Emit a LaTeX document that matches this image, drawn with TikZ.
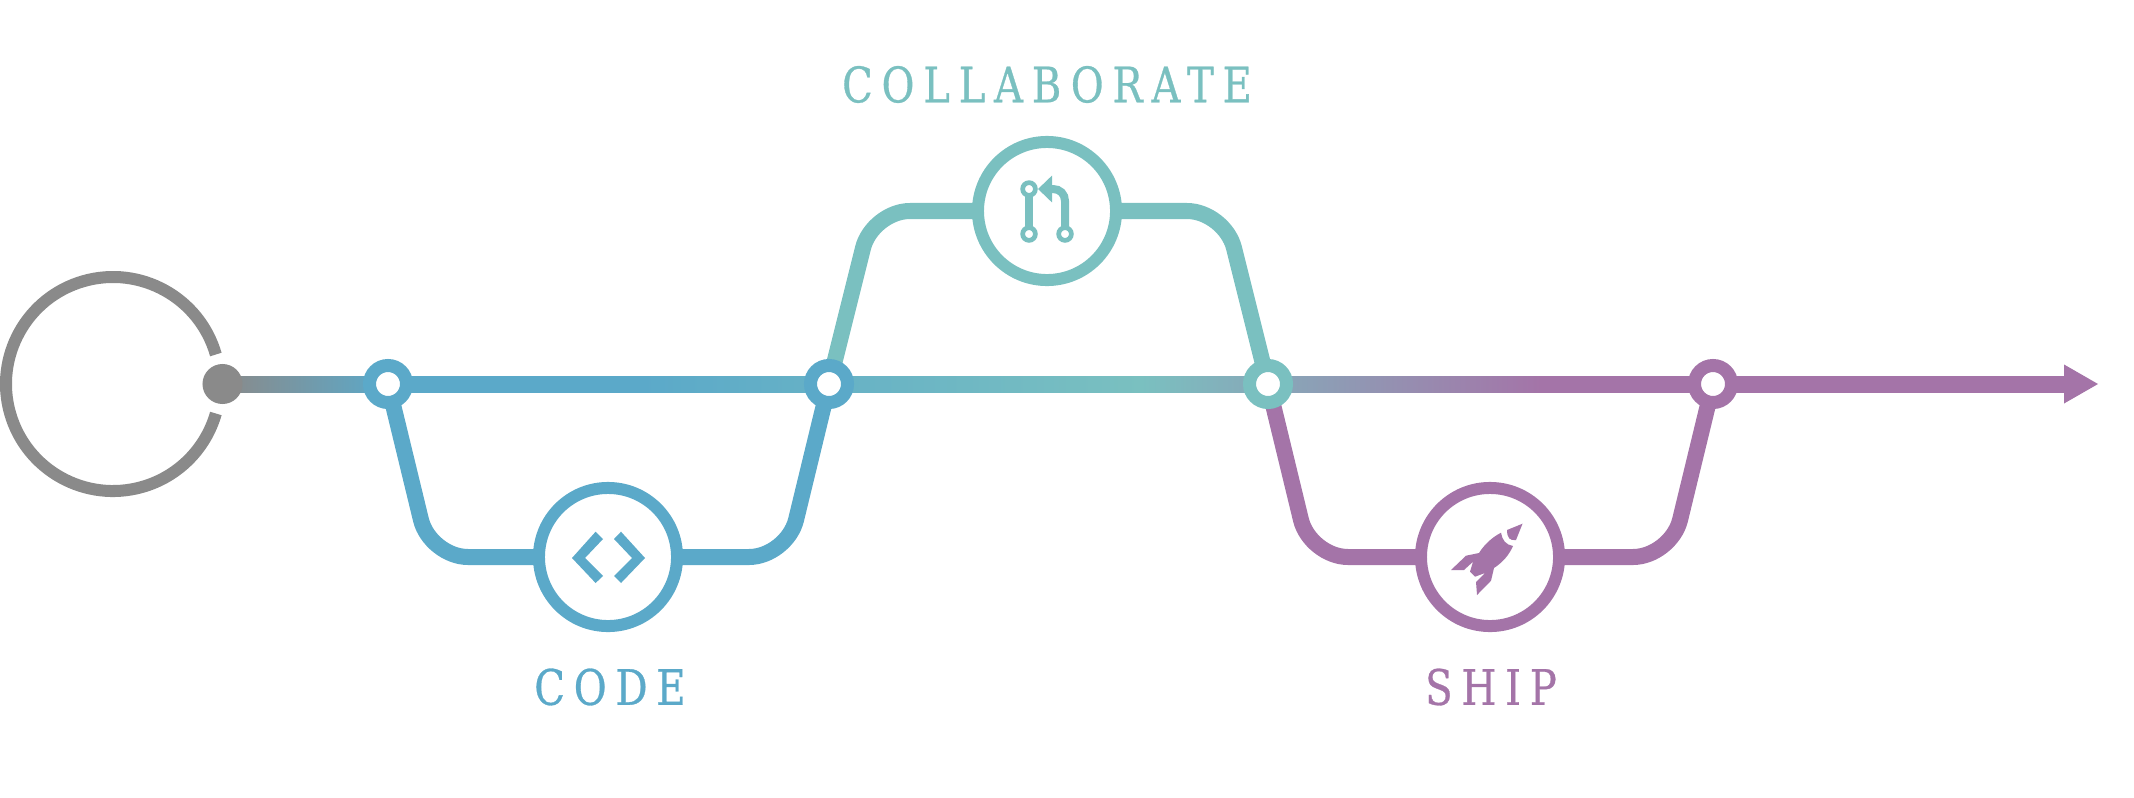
\documentclass[tikz,border=0pt]{standalone}
\usepackage{fontspec}
\newfontfamily\stagefont[LetterSpace=18,FakeStretch=0.82,FakeBold=0.6]{DejaVu Serif}
\usetikzlibrary{arrows.meta,backgrounds}
\definecolor{flowgray}{HTML}{8A8A8A}
\definecolor{flowblue}{HTML}{5BA9C9}
\definecolor{flowteal}{HTML}{7AC0C0}
\definecolor{flowpurple}{HTML}{A474A8}
\tikzset{
  hub/.style={circle,draw=#1,fill=white,line width=.13cm,minimum size=.37cm,inner sep=0pt},
  stage/.style={circle,draw=#1,fill=white,line width=.12cm,minimum size=1.38cm,inner sep=0pt},
  port/.style={circle,draw=flowteal,line width=.047cm,minimum size=.127cm,inner sep=0pt,outer sep=0pt},
  branch/.style={draw=#1,line width=.16cm,line join=round},
  stagelabel/.style={text=#1,font=\fontsize{13.9pt}{16pt}\stagefont,inner sep=0pt}
}
\begin{document}
\begin{tikzpicture}[x=.01cm,y=-.01cm]
\useasboundingbox (0,0) rectangle (2134,797);
\node[circle,fill=flowgray,minimum size=.4cm,inner sep=0pt] (dot) at (222.5,384) {};
\node[hub=flowblue] (hubA) at (388,384) {};
\node[hub=flowblue] (hubB) at (829,384) {};
\node[hub=flowteal] (hubC) at (1268,384) {};
\node[hub=flowpurple] (hubD) at (1713,384) {};
\node[stage=flowblue] (code) at (608,557) {};
\node[stage=flowteal] (collab) at (1047,211) {};
\node[stage=flowpurple] (ship) at (1490,557) {};
\coordinate (fadeA) at (640,384);
\coordinate (fadeB) at (1141,384);
\coordinate (fadeC) at (1540,384);
\coordinate (neck) at (2064,384);
\coordinate (tip) at (2098,384);
\coordinate (loop) at (113,384);
\begin{scope}[on background layer]
\foreach \from/\to/\cola/\colb in {dot/hubA/flowgray/flowblue,hubA/fadeA/flowblue/flowblue,fadeA/fadeB/flowblue/flowteal,fadeB/fadeC/flowteal/flowpurple,fadeC/neck/flowpurple/flowpurple}
  \shade[left color=\cola,right color=\colb] ([yshift=.08cm]\from.center) rectangle ([yshift=-.08cm,xshift=.01cm]\to.center);
\fill[flowpurple] ([yshift=.195cm]neck) -- (tip) -- ([yshift=-.195cm]neck) -- cycle;
\draw[branch=flowblue] (hubA.center) -- (421,520) .. controls (426,540) and (447,557) .. (468,557) -- (code.center) -- (749,557) .. controls (770,557) and (791,540) .. (796,520) -- (hubB.center);
\draw[branch=flowteal] (hubB.center) -- (863,248) .. controls (868,228) and (889,211) .. (910,211) -- (collab.center) -- (1187,211) .. controls (1208,211) and (1229,228) .. (1234,248) -- (hubC.center);
\draw[branch=flowpurple] (hubC.center) -- (1301,520) .. controls (1306,540) and (1327,557) .. (1348,557) -- (ship.center) -- (1633,557) .. controls (1654,557) and (1675,540) .. (1680,520) -- (hubD.center);
\end{scope}
\draw[flowgray,line width=.12cm] ([shift={(-16:107)}]loop) arc[start angle=-16,end angle=-344,radius=107];
% icons
\fill[flowblue] (572,558) -- (595.6,531.7) -- (603,539) -- (585,558) -- (603,576) -- (595.6,583) -- cycle;
\fill[flowblue] (645,558) -- (621,531.7) -- (614,539) -- (632,558) -- (614,576) -- (621,583) -- cycle;
\node[port] (mergeA) at (1029,189) {};
\node[port] (mergeB) at (1029,234) {};
\node[port] (mergeC) at (1065,234) {};
\coordinate (mergeTip) at (1038,189);
\draw[flowteal,line width=.08cm] (mergeA) -- (mergeB);
\draw[flowteal,line width=.08cm,-{Triangle[length=.14cm,width=.26cm]}] (mergeC) -- (1065,201) .. controls (1065,194) and (1060,189) .. (1053,189) -- (mergeTip);
\fill[flowpurple] (1522.5,523.7) -- (1507,530) .. controls (1507,538) and (1510,541) .. (1516,540) -- cycle;
\fill[flowpurple] (1501,532.7) .. controls (1491,538) and (1484,545) .. (1479,553) -- (1466,555.7) -- (1451,570) -- (1464,570) -- (1473,561.7) -- (1470,571.7) -- (1475,576.7) -- (1485,573) -- (1476,582) -- (1477,595) -- (1491,580.7) -- (1494,568) .. controls (1503,562) and (1509,555) .. (1513,546) .. controls (1506,545) and (1502,540) .. (1501,532.7) -- cycle;
% labels
\node[stagelabel=flowteal] (collabtext) at (1047,84.5) {COLLABORATE};
\node[stagelabel=flowblue] (codetext) at (610,687) {CODE};
\node[stagelabel=flowpurple] (shiptext) at (1491,687) {SHIP};
\end{tikzpicture}
\end{document}
